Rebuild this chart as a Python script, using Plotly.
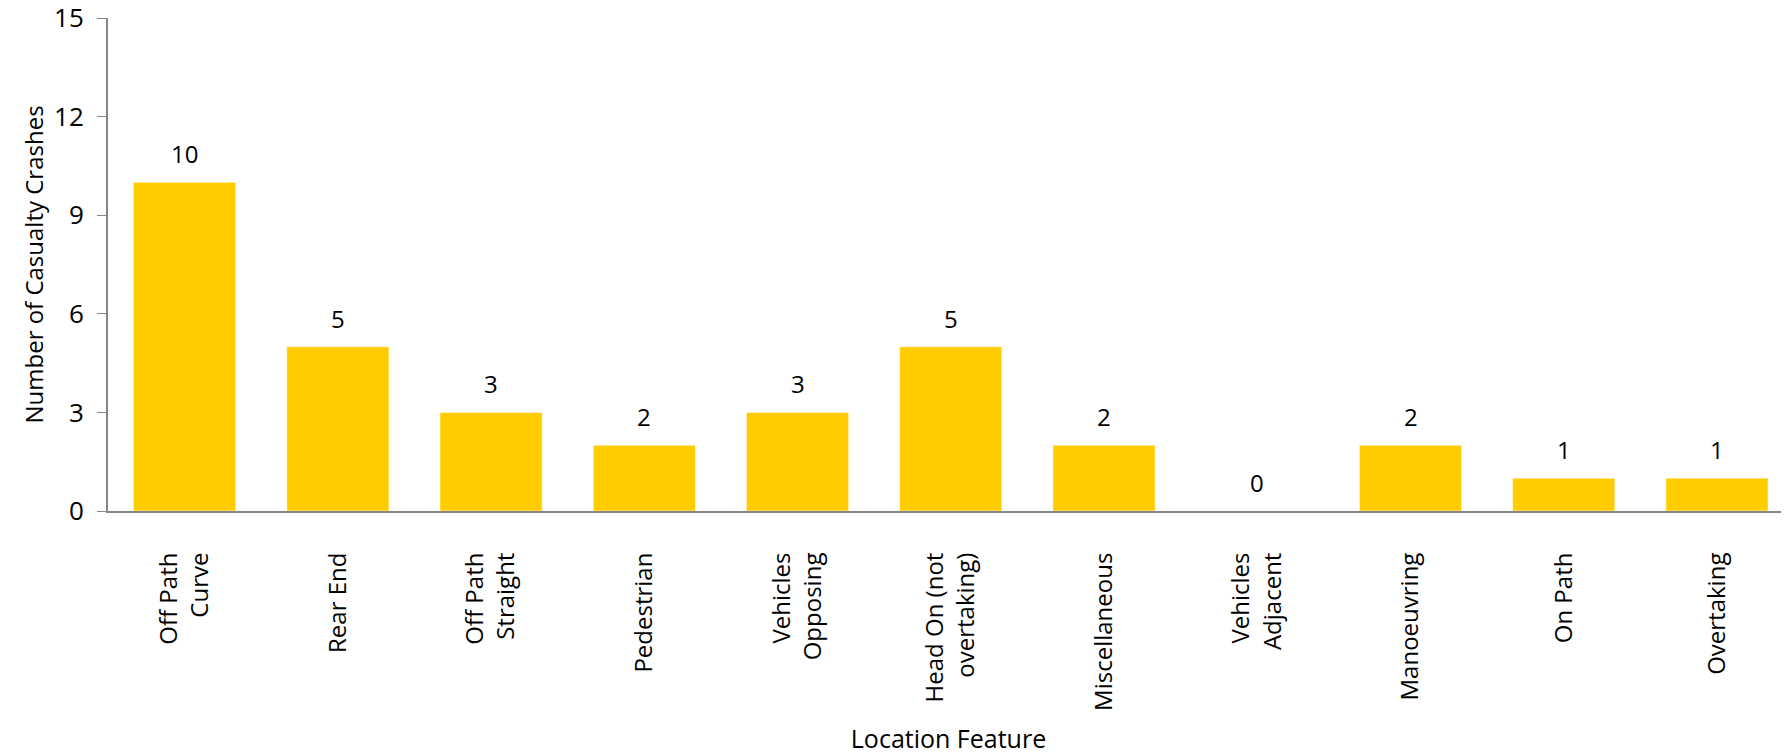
import plotly.graph_objects as go

categories = [
    "Off Path<br>Curve", "Rear End", "Off Path<br>Straight", "Pedestrian",
    "Vehicles<br>Opposing", "Head On (not<br>overtaking)", "Miscellaneous",
    "Vehicles<br>Adjacent", "Manoeuvring", "On Path", "Overtaking",
]
crashes = [10, 5, 3, 2, 3, 5, 2, 0, 2, 1, 1]
y_ticks = [0, 3, 6, 9, 12, 15]

FONT = "Open Sans"
AXIS_GREY = "#868686"

fig = go.Figure(
    go.Bar(
        x=categories,
        y=crashes,
        marker_color="#FFCC00",
        cliponaxis=False,
    )
)

# value labels above each bar
for cat, val in zip(categories, crashes):
    fig.add_annotation(
        x=cat, y=val, text=str(val), showarrow=False,
        yanchor="bottom", yshift=10,
        font=dict(size=24, color="black", family=FONT),
    )

# page body has an 8px margin, so the figure is a bit smaller than the window
fig.update_layout(
    width=1781,
    height=747,
    template="plotly_white",
    paper_bgcolor="white",
    plot_bgcolor="white",
    font=dict(family=FONT, color="black", size=24),
    margin=dict(l=100, r=0, t=10, b=244),
    bargap=0.333,
    showlegend=False,
)
fig.update_xaxes(
    title=dict(text="Location Feature", font=dict(size=25), standoff=25),
    range=[-0.5, 10.47],
    tickangle=-90,
    tickfont=dict(size=24),
    ticklabelstandoff=30,
    showline=True,
    linecolor=AXIS_GREY,
    linewidth=2,
    showgrid=False,
    ticks="",
    automargin=False,
)
fig.update_yaxes(
    title=dict(text="Number of Casualty Crashes", font=dict(size=24), standoff=4),
    range=[0, 15.001],
    tickvals=y_ticks,
    tickfont=dict(size=26),
    ticklabelstandoff=8,
    ticklabeloverflow="allow",
    showline=True,
    linecolor=AXIS_GREY,
    linewidth=2,
    ticks="outside",
    ticklen=9,
    tickcolor=AXIS_GREY,
    showgrid=False,
    zeroline=False,
    automargin=False,
)

fig.write_html("out.html")
